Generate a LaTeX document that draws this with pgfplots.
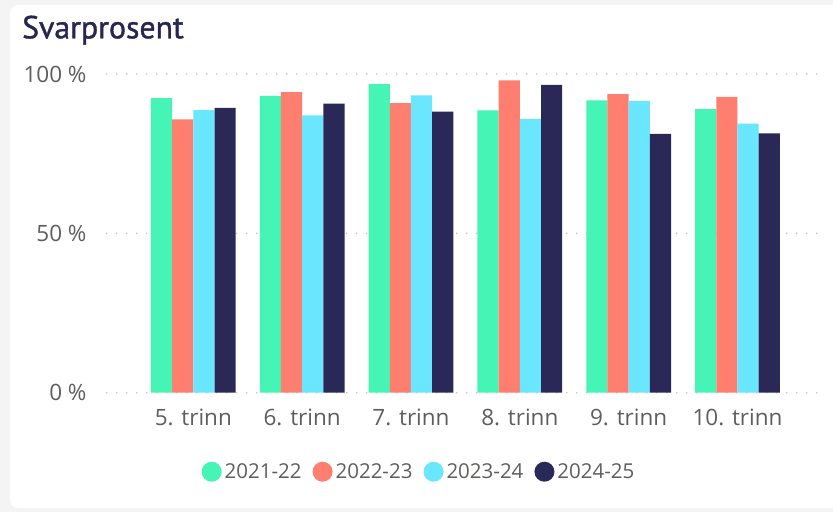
\documentclass[border=0pt]{standalone}
\usepackage{pgfplots}
\pgfplotsset{compat=1.18}
\usepackage{fontspec}
\setmainfont{Open Sans}
\newfontfamily\titlefont[FakeBold=1.2]{PT Sans}
\definecolor{cgreen}{HTML}{44F5B5}
\definecolor{csalmon}{HTML}{FE7F70}
\definecolor{ccyan}{HTML}{6BE6FF}
\definecolor{cnavy}{HTML}{292856}
\definecolor{ctext}{HTML}{605E5C}
\definecolor{ctitle}{HTML}{262650}
\definecolor{cbg}{HTML}{F4F4F4}
\definecolor{cgrid}{HTML}{C4C4C4}
\begin{document}
\begin{tikzpicture}
\useasboundingbox (-106.7pt,-119.3pt) rectangle (726.3pt,392.7pt);
\fill[cbg] (-106.7pt,-119.3pt) rectangle (726.3pt,392.7pt);
\fill[white, rounded corners=8pt] (-96.7pt,-115.3pt) rectangle (745pt,387.7pt);
\node[anchor=base west, inner sep=0pt, text=ctitle, font=\titlefont\fontsize{31.8}{38}\selectfont] at (-84.7pt,354.4pt) {Svarprosent};
\begin{axis}[
  scale only axis,
  width=717.3pt, height=318.7pt,
  ybar=0pt, bar width=21.2pt,
  xmin=-0.796, xmax=5.795,
  ymin=0, ymax=100,
  xtick={0,1,2,3,4,5},
  xticklabels={5. trinn,6. trinn,7. trinn,8. trinn,9. trinn,10. trinn},
  ytick={0,50,100},
  yticklabels={0 \%,50 \%,100 \%},
  axis line style={draw=none},
  major tick length=0pt,
  ymajorgrids,
  major grid style={draw=cgrid, line width=1.8pt, line cap=round, dash pattern=on 0pt off 10pt},
  tick label style={text=ctext, font=\fontsize{22.5}{27}\selectfont},
  xticklabel style={anchor=base, inner sep=0pt, yshift=-32.3pt},
  yticklabel style={anchor=east, inner sep=0pt, xshift=-20pt},
  legend columns=4,
  legend style={draw=none, fill=none, inner sep=0pt, outer sep=0pt,
    at={(0.1324,-0.2479)}, anchor=west,
    font=\fontsize{20.5}{24}\selectfont, text=ctext,
    /tikz/every odd column/.append style={column sep=3pt},
    /tikz/every even column/.append style={column sep=11pt},
    nodes={inner sep=0pt}},
  legend image code/.code={\fill[#1,draw=none] (10pt,0pt) circle (10pt);},
]
\addplot[fill=cgreen, draw=none] coordinates {(0,92.4) (1,93.1) (2,96.8) (3,88.6) (4,91.7) (5,89.0)};
\addplot[fill=csalmon, draw=none] coordinates {(0,85.8) (1,94.3) (2,90.9) (3,98.0) (4,93.7) (5,92.8)};
\addplot[fill=ccyan, draw=none] coordinates {(0,88.7) (1,87.0) (2,93.3) (3,85.9) (4,91.6) (5,84.4)};
\addplot[fill=cnavy, draw=none] coordinates {(0,89.4) (1,90.7) (2,88.2) (3,96.6) (4,81.2) (5,81.4)};
\legend{2021-22,2022-23,2023-24,2024-25}
\end{axis}
\end{tikzpicture}
\end{document}
